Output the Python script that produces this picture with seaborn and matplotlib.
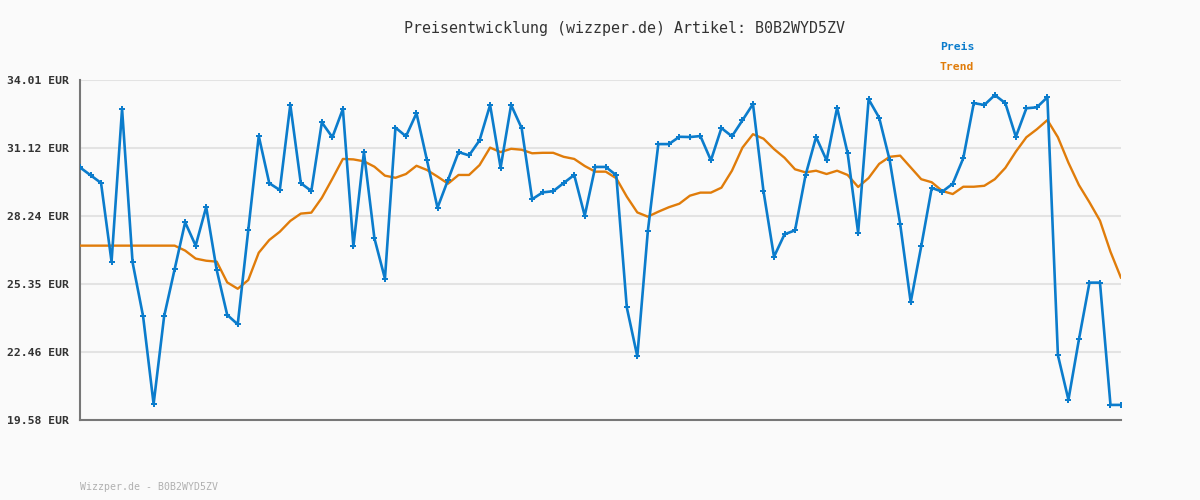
import numpy as np
import pandas as pd
import matplotlib
matplotlib.use("Agg")
import matplotlib.pyplot as plt
import seaborn as sns

preis = [30.30, 29.97, 29.64, 26.30, 32.78, 26.27, 23.98, 20.26, 23.98, 25.98,
         27.97, 26.98, 28.62, 25.95, 24.04, 23.64, 27.63, 31.63, 29.63, 29.34,
         32.96, 29.63, 29.30, 32.21, 31.58, 32.78, 26.95, 30.95, 27.29, 25.58,
         31.99, 31.62, 32.60, 30.60, 28.59, 29.77, 30.95, 30.81, 31.45, 32.95,
         30.29, 32.95, 31.97, 28.95, 29.24, 29.29, 29.64, 29.98, 28.25, 30.32,
         30.32, 29.97, 24.36, 22.28, 27.59, 31.29, 31.29, 31.60, 31.59, 31.63,
         30.60, 31.97, 31.62, 32.30, 32.99, 29.29, 26.51, 27.46, 27.63, 29.97,
         31.59, 30.60, 32.83, 30.91, 27.53, 33.19, 32.41, 30.61, 27.89, 24.58,
         26.95, 29.43, 29.27, 29.61, 30.69, 33.03, 32.95, 33.37, 33.03, 31.60,
         32.81, 32.85, 33.28, 22.33, 20.44, 23.00, 25.41, 25.41, 20.22, 20.22]

trend = [26.98, 26.98, 26.98, 26.98, 26.98, 26.98, 26.98, 26.98, 26.98, 26.98,
         26.77, 26.43, 26.34, 26.30, 25.42, 25.15, 25.52, 26.68, 27.22, 27.57,
         28.03, 28.34, 28.38, 29.01, 29.82, 30.66, 30.64, 30.56, 30.33, 29.95,
         29.86, 30.02, 30.37, 30.19, 29.91, 29.61, 29.98, 29.98, 30.40, 31.14,
         30.95, 31.09, 31.05, 30.90, 30.92, 30.92, 30.75, 30.66, 30.36, 30.12,
         30.12, 29.84, 29.06, 28.39, 28.21, 28.42, 28.61, 28.76, 29.10, 29.23,
         29.23, 29.44, 30.16, 31.14, 31.71, 31.52, 31.08, 30.71, 30.22, 30.09,
         30.16, 30.02, 30.16, 29.98, 29.47, 29.85, 30.45, 30.75, 30.80, 30.30,
         29.80, 29.67, 29.30, 29.17, 29.48, 29.48, 29.52, 29.80, 30.28, 30.97,
         31.58, 31.92, 32.31, 31.58, 30.50, 29.55, 28.82, 28.04, 26.72, 25.61]

y_ticks = [19.58, 22.46, 25.35, 28.24, 31.12, 34.01]
y_tick_labels = ["19.58 EUR", "22.46 EUR", "25.35 EUR", "28.24 EUR", "31.12 EUR", "34.01 EUR"]

title = "Preisentwicklung (wizzper.de) Artikel: B0B2WYD5ZV"
footer = "Wizzper.de - B0B2WYD5ZV"

BLUE = "#0b7ccc"
ORANGE = "#e07c0a"
BG = "#fafafa"
MONO = ["DejaVu Sans Mono"]

sns.set_style("white")
plt.rcParams["font.family"] = MONO

df = pd.DataFrame({"idx": np.arange(len(preis)), "Preis": preis, "Trend": trend})

fig = plt.figure(figsize=(12, 5), dpi=100, facecolor=BG)
ax = fig.add_axes([80 / 1200, 80 / 500, (1121 - 80) / 1200, 340 / 500])
ax.set_facecolor(BG)

sns.lineplot(data=df, x="idx", y="Trend", ax=ax, color=ORANGE, linewidth=1.7, zorder=3)
sns.lineplot(data=df, x="idx", y="Preis", ax=ax, color=BLUE, linewidth=1.9,
             marker="P", markersize=5, markeredgewidth=0, zorder=4)

ax.set_xlim(0, len(preis) - 1)
ax.set_ylim(y_ticks[0], y_ticks[-1])
ax.set_yticks(y_ticks)
ax.set_yticklabels(y_tick_labels, fontsize=8.2, fontweight="bold", color="#333333")
ax.set_xticks([])
ax.set_xlabel("")
ax.set_ylabel("")
ax.tick_params(axis="y", length=0, pad=8)
ax.grid(axis="y", color="#e3e3e3", linewidth=1.5)
ax.set_axisbelow(True)
for s in ["top", "right"]:
    ax.spines[s].set_visible(False)
for s in ["left", "bottom"]:
    ax.spines[s].set_color("#777777")
    ax.spines[s].set_linewidth(1.5)

fig.text(0.52, 1 - 28 / 500, title, ha="center", va="center", fontsize=10.8, color="#333333")
fig.text(940 / 1200, 1 - 47 / 500, "Preis", ha="left", va="center", fontsize=8.2,
         fontweight="bold", color=BLUE)
fig.text(940 / 1200, 1 - 67 / 500, "Trend", ha="left", va="center", fontsize=8.2,
         fontweight="bold", color=ORANGE)
fig.text(80 / 1200, 1 - 487 / 500, footer, ha="left", va="center", fontsize=7.1, color="#b0b0b0")

fig.savefig("out.png", dpi=100, facecolor=BG)
